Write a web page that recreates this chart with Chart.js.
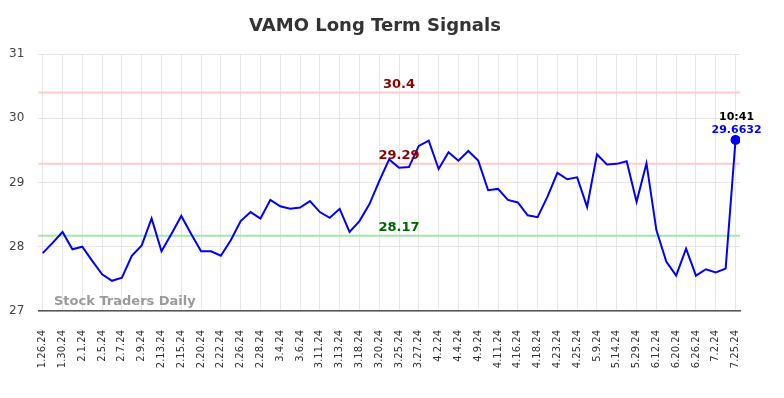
<!DOCTYPE html>
<html>
<head>
<meta charset="utf-8">
<script src="https://cdn.jsdelivr.net/npm/chart.js@4.4.1/dist/chart.umd.min.js"></script>
<style>
    html, body { margin: 0; padding: 0; background: #fff; }
    #wrap { width: 784px; height: 398px; }
</style>
</head>
<body>
<div id="wrap"><canvas id="signalsChart" width="784" height="398"></canvas></div>
<script>
// fechas (solo se muestran las de índice par)
const dateLabels = [
    '1.26.24', '1.29.24', '1.30.24', '1.31.24', '2.1.24', '2.2.24', '2.5.24', '2.6.24', '2.7.24', '2.8.24',
    '2.9.24', '2.12.24', '2.13.24', '2.14.24', '2.15.24', '2.16.24', '2.20.24', '2.21.24', '2.22.24', '2.23.24',
    '2.26.24', '2.27.24', '2.28.24', '2.29.24', '3.4.24', '3.5.24', '3.6.24', '3.7.24', '3.11.24', '3.12.24',
    '3.13.24', '3.14.24', '3.18.24', '3.19.24', '3.20.24', '3.21.24', '3.25.24', '3.26.24', '3.27.24', '3.28.24',
    '4.2.24', '4.3.24', '4.4.24', '4.8.24', '4.9.24', '4.10.24', '4.11.24', '4.15.24', '4.16.24', '4.17.24',
    '4.18.24', '4.22.24', '4.23.24', '4.24.24', '4.25.24', '5.2.24', '5.9.24', '5.13.24', '5.14.24', '5.22.24',
    '5.29.24', '6.5.24', '6.12.24', '6.17.24', '6.20.24', '6.24.24', '6.26.24', '6.28.24', '7.2.24', '7.15.24',
    '7.25.24'
];

const closePrices = [
    27.90, 28.06, 28.23, 27.96, 28.00, 27.78, 27.57, 27.47, 27.52, 27.86,
    28.02, 28.44, 27.93, 28.20, 28.48, 28.20, 27.93, 27.93, 27.86, 28.10,
    28.40, 28.54, 28.44, 28.73, 28.63, 28.59, 28.61, 28.71, 28.54, 28.45,
    28.59, 28.23, 28.40, 28.66, 29.02, 29.36, 29.23, 29.24, 29.57, 29.65,
    29.21, 29.47, 29.34, 29.49, 29.34, 28.88, 28.90, 28.73, 28.69, 28.49,
    28.46, 28.78, 29.15, 29.05, 29.08, 28.62, 29.44, 29.28, 29.29, 29.33,
    28.70, 29.30, 28.26, 27.77, 27.55, 27.97, 27.55, 27.65, 27.60, 27.66,
    29.6632
];

const yTicks = [27, 28, 29, 30, 31];

// líneas de señal
const signalValues = [30.4, 29.29, 28.17];
const signalTexts = ['30.4', '29.29', '28.17'];
const signalLineColors = ['#ffcccc', '#ffcccc', '#a6e6a6'];
const signalTextColors = ['#8b0000', '#8b0000', '#006400'];

const lastTime = '10:41';
const lastIdx = closePrices.length - 1;

const overlayPlugin = {
    id: 'overlay',
    beforeDatasetsDraw(chart) {
        const { ctx, chartArea, scales } = chart;
        ctx.save();
        signalValues.forEach((v, i) => {
            const y = scales.y.getPixelForValue(v);
            ctx.strokeStyle = signalLineColors[i];
            ctx.lineWidth = 2;
            ctx.beginPath();
            ctx.moveTo(chartArea.left, y);
            ctx.lineTo(chartArea.right, y);
            ctx.stroke();
        });
        // marca de agua
        ctx.font = 'bold 13px "DejaVu Sans"';
        ctx.fillStyle = '#9a9a9a';
        ctx.textAlign = 'left';
        ctx.textBaseline = 'middle';
        ctx.fillText('Stock Traders Daily', 54, 302);
        ctx.restore();
    },
    afterDatasetsDraw(chart) {
        const { ctx, scales } = chart;
        ctx.save();
        ctx.textAlign = 'center';
        ctx.textBaseline = 'middle';
        ctx.font = 'bold 13px "DejaVu Sans"';
        const xMid = scales.x.getPixelForValue(36);
        signalValues.forEach((v, i) => {
            const y = scales.y.getPixelForValue(v);
            ctx.fillStyle = signalTextColors[i];
            ctx.fillText(signalTexts[i], xMid, y - 8);
        });
        // último valor
        const px = scales.x.getPixelForValue(lastIdx);
        const py = scales.y.getPixelForValue(closePrices[lastIdx]);
        ctx.font = 'bold 11px "DejaVu Sans"';
        ctx.fillStyle = '#000';
        ctx.fillText(lastTime, px + 1, py - 23);
        ctx.fillStyle = '#0000ff';
        ctx.fillText(closePrices[lastIdx].toFixed(4), px + 1, py - 10);
        // título
        ctx.font = 'bold 18px "DejaVu Sans"';
        ctx.fillStyle = '#333';
        ctx.fillText('VAMO Long Term Signals', 375, 26);
        ctx.restore();
    }
};

const ctx = document.getElementById('signalsChart').getContext('2d');
new Chart(ctx, {
    type: 'line',
    data: {
        datasets: [{
            data: closePrices.map((v, i) => ({ x: i, y: v })),
            borderColor: '#0000ff',
            borderWidth: 2,
            tension: 0,
            pointRadius: closePrices.map((v, i) => i === lastIdx ? 4 : 0),
            pointBackgroundColor: '#0000ff',
            pointBorderColor: '#0000ff'
        }]
    },
    options: {
        responsive: false,
        animation: false,
        layout: { padding: { top: 54, left: -5, right: 44, bottom: 0 } },
        plugins: {
            legend: { display: false },
            title: { display: false },
            tooltip: { enabled: false }
        },
        scales: {
            x: {
                type: 'linear',
                min: -0.45,
                max: lastIdx + 0.45,
                afterBuildTicks: (scale) => {
                    scale.ticks = dateLabels.map((l, i) => ({ value: i })).filter(t => t.value % 2 === 0);
                },
                afterFit: (scale) => {
                    scale.height = 87;
                },
                ticks: {
                    autoSkip: false,
                    minRotation: 90,
                    maxRotation: 90,
                    padding: 19,
                    color: '#333',
                    font: { family: 'DejaVu Sans', size: 10 },
                    callback: (value) => dateLabels[value]
                },
                grid: { color: '#e6e6e6', drawTicks: false },
                border: { display: true, color: '#555', width: 1.5 }
            },
            y: {
                min: 27,
                max: 31,
                afterBuildTicks: (scale) => {
                    scale.ticks = yTicks.map(v => ({ value: v }));
                },
                ticks: {
                    padding: 14,
                    color: '#444',
                    font: { family: 'DejaVu Sans', size: 12 }
                },
                grid: { color: '#e6e6e6', drawTicks: false },
                border: { display: false }
            }
        }
    },
    plugins: [overlayPlugin]
});
</script>
</body>
</html>
